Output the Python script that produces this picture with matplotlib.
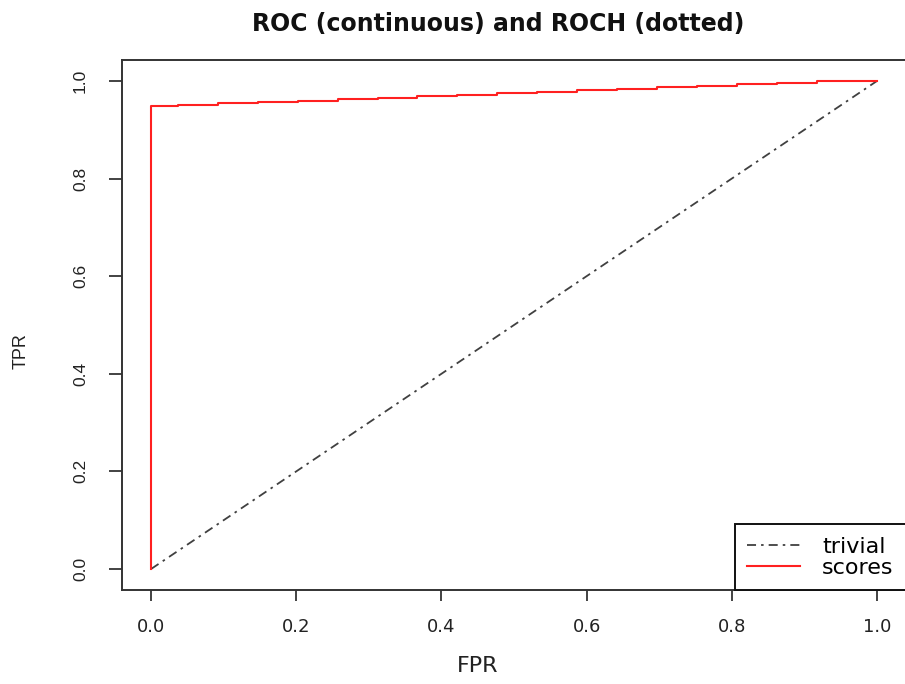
import matplotlib
matplotlib.use("Agg")
import matplotlib.pyplot as plt

plt.rcParams['font.family'] = ['Liberation Sans', 'DejaVu Sans']

# ROC step points
fpr = [0.0, 0.0, 0.037, 0.092, 0.147, 0.202, 0.257, 0.312, 0.367, 0.422, 0.477,
       0.532, 0.587, 0.642, 0.697, 0.752, 0.807, 0.862, 0.917, 0.972, 1.0]
tpr = [0.0, 0.945, 0.948, 0.951, 0.954, 0.957, 0.960, 0.963, 0.966, 0.969, 0.972,
       0.975, 0.978, 0.981, 0.984, 0.987, 0.990, 0.993, 0.996, 0.999, 1.0]
trivial_x = [0.0, 1.0]
trivial_y = [0.0, 1.0]
ticks = [0.0, 0.2, 0.4, 0.6, 0.8, 1.0]

fig = plt.figure(figsize=(9.05, 6.84), dpi=100)
ax = fig.add_axes([122 / 905, 94 / 684, 784 / 905, 530 / 684])

ax.plot(trivial_x, trivial_y, color='#404040', lw=1.3, dashes=(5, 2.8, 1.4, 2.8), label='trivial')
ax.step(fpr, tpr, where='pre', color='#ff2020', lw=1.5, label='scores')

ax.set_xlim(-0.04, 1.04)
ax.set_ylim(-0.043, 1.043)
ax.set_xticks(ticks)
ax.set_yticks(ticks)
ax.set_xticklabels([f"{t:.1f}" for t in ticks], fontsize=13, family='DejaVu Sans')
ax.set_yticklabels([f"{t:.1f}" for t in ticks], fontsize=12.5, rotation=90, va='center')
ax.tick_params(axis='x', direction='out', length=8, width=1.2, pad=12, colors='#222222')
ax.tick_params(axis='y', direction='out', length=9.5, width=1.2, pad=15, colors='#222222')
for s in ax.spines.values():
    s.set_linewidth(1.4)
    s.set_color('#333333')

ax.set_xlabel('FPR', fontsize=16, family='DejaVu Sans', color='#222222')
ax.xaxis.set_label_coords(0.453, -0.124)
ax.set_ylabel('TPR', fontsize=13, color='#222222')
ax.yaxis.set_label_coords(-0.118, 0.451)
ax.set_title('ROC (continuous) and ROCH (dotted)', fontsize=17, fontweight='bold',
             family='DejaVu Sans', x=0.48, pad=21, color='#111111')

leg = ax.legend(loc='lower right', borderaxespad=0, fancybox=False, edgecolor='#111111',
                framealpha=1, prop={'family': 'DejaVu Sans', 'size': 16},
                handlelength=2.4, borderpad=0.55, labelspacing=0.05, handletextpad=1.0)
leg.get_frame().set_linewidth(1.4)

fig.savefig('out.png', dpi=100)
